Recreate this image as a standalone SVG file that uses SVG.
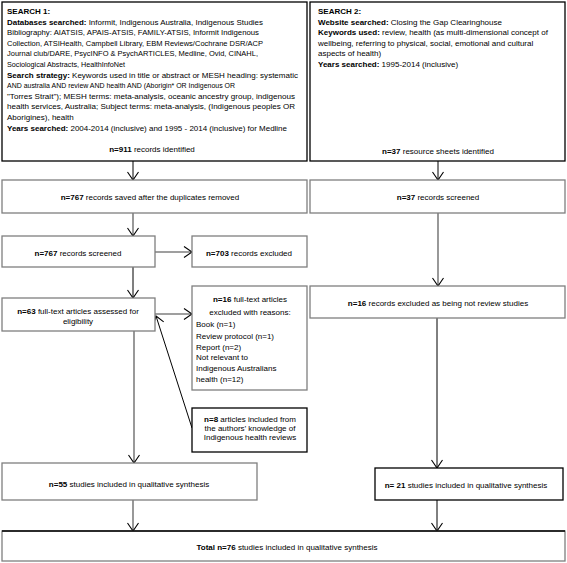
<svg xmlns="http://www.w3.org/2000/svg" width="567" height="563" viewBox="0 0 567 563">
<defs>
<style>
text{font-family:"Liberation Sans",Arial,sans-serif;font-size:8px;fill:#000}
.b{font-weight:bold}
.c{text-anchor:middle}
.bk{fill:#fff;stroke:#000;stroke-width:1.3}
.gr{fill:#fff;stroke:#7f7f7f;stroke-width:1.3}
.lk{fill:none;stroke:#000;stroke-width:1}
.lg{fill:none;stroke:#7f7f7f;stroke-width:1.6}
</style>
<marker id="ah" markerUnits="userSpaceOnUse" markerWidth="14" markerHeight="14" refX="10" refY="7" orient="auto" viewBox="0 0 14 14">
<path d="M2,1.5 L10,7 L2,12.5" fill="none" stroke="#000" stroke-width="1.1"/>
</marker>
</defs>
<rect width="567" height="563" fill="#fff"/>

<g id="connectors">
<line class="lk" x1="133" y1="161" x2="133" y2="180" marker-end="url(#ah)"/>
<line class="lg" x1="133" y1="213" x2="133" y2="236" marker-end="url(#ah)"/>
<line class="lg" x1="155" y1="252" x2="192" y2="252" marker-end="url(#ah)"/>
<line class="lk" x1="133" y1="267" x2="133" y2="298" marker-end="url(#ah)"/>
<line class="lg" x1="155" y1="314" x2="192" y2="314" marker-end="url(#ah)"/>
<line class="lk" x1="192" y1="428" x2="156" y2="316" marker-end="url(#ah)"/>
<line class="lg" x1="134" y1="331" x2="134" y2="463" marker-end="url(#ah)"/>
<line class="lg" x1="133" y1="500" x2="133" y2="531" marker-end="url(#ah)"/>
<line class="lk" x1="438" y1="161" x2="438" y2="180" marker-end="url(#ah)"/>
<line class="lg" x1="438" y1="213" x2="438" y2="286" marker-end="url(#ah)"/>
<line class="lk" x1="437" y1="318" x2="437" y2="468" marker-end="url(#ah)"/>
<line class="lk" x1="437" y1="500" x2="437" y2="531" marker-end="url(#ah)"/>
</g>

<g id="search1">
<rect class="bk" x="2" y="2" width="305" height="159"/>
<text x="7" y="14" class="b">SEARCH 1:</text>
<text x="7" y="24.7" textLength="256" lengthAdjust="spacingAndGlyphs"><tspan class="b">Databases searched:</tspan> Informit, Indigenous Australia, Indigenous Studies</text>
<text x="7" y="35.2" textLength="252" lengthAdjust="spacingAndGlyphs">Bibliography: AIATSIS, APAIS-ATSIS, FAMILY-ATSIS, Informit Indigenous</text>
<text x="7" y="45.8" textLength="256" lengthAdjust="spacingAndGlyphs">Collection, ATSIHealth, Campbell Library, EBM Reviews/Cochrane DSR/ACP</text>
<text x="7" y="56.4" textLength="251" lengthAdjust="spacingAndGlyphs">Journal club/DARE, PsycINFO &amp; PsychARTICLES, Medline, Ovid, CINAHL,</text>
<text x="7" y="67" textLength="118" lengthAdjust="spacingAndGlyphs">Sociological Abstracts, HealthInfoNet</text>
<text x="7" y="77.6" textLength="291" lengthAdjust="spacingAndGlyphs"><tspan class="b">Search strategy:</tspan> Keywords used in title or abstract or MESH heading: systematic</text>
<text x="7" y="88.2" textLength="228" lengthAdjust="spacingAndGlyphs">AND australia AND review AND health AND (Aborigin* OR Indigenous OR</text>
<text x="7" y="98.8" textLength="288" lengthAdjust="spacingAndGlyphs">"Torres Strait"); MESH terms: meta-analysis, oceanic ancestry group, indigenous</text>
<text x="7" y="109.4" textLength="288" lengthAdjust="spacingAndGlyphs">health services, Australia; Subject terms: meta-analysis, (Indigenous peoples OR</text>
<text x="7" y="120">Aborigines), health</text>
<text x="7" y="130.6" textLength="280" lengthAdjust="spacingAndGlyphs"><tspan class="b">Years searched:</tspan> 2004-2014 (inclusive) and  1995 - 2014 (inclusive) for Medline</text>
<text x="152" y="152" class="c"><tspan class="b">n=911</tspan> records identified</text>
</g>

<g id="search2">
<rect class="bk" x="310" y="2" width="255" height="159"/>
<text x="318" y="14" class="b">SEARCH 2:</text>
<text x="318" y="24.7"><tspan class="b">Website searched:</tspan> Closing the Gap Clearinghouse</text>
<text x="318" y="35.2"><tspan class="b">Keywords used:</tspan> review, health (as multi-dimensional concept of</text>
<text x="318" y="45.8">wellbeing, referring to physical, social, emotional and cultural</text>
<text x="318" y="56.4">aspects of health)</text>
<text x="318" y="67"><tspan class="b">Years searched:</tspan> 1995-2014 (inclusive)</text>
<text x="438" y="154" class="c"><tspan class="b">n=37</tspan> resource sheets identified</text>
</g>

<g id="saved767">
<rect class="gr" x="2" y="180" width="305" height="33"/>
<text x="150" y="200" class="c"><tspan class="b">n=767</tspan> records saved after the duplicates removed</text>
</g>

<g id="screened37">
<rect class="gr" x="310" y="180" width="255" height="33"/>
<text x="438" y="200" class="c"><tspan class="b">n=37</tspan> records screened</text>
</g>

<g id="screened767">
<rect class="gr" x="2" y="236" width="153" height="31"/>
<text x="78" y="255.5" class="c"><tspan class="b">n=767</tspan> records screened</text>
</g>

<g id="excluded703">
<rect class="gr" x="192" y="236" width="115" height="31"/>
<text x="249" y="255.5" class="c"><tspan class="b">n=703</tspan> records excluded</text>
</g>

<g id="fulltext63">
<rect class="gr" x="2" y="298" width="153" height="33"/>
<text x="78" y="313.5" class="c"><tspan class="b">n=63</tspan> full-text articles assessed for</text>
<text x="78" y="323.5" class="c">eligibility</text>
</g>

<g id="excluded16ft">
<rect class="gr" x="192" y="286" width="115" height="104"/>
<text x="250" y="301.5" class="c"><tspan class="b">n=16</tspan> full-text articles</text>
<text x="250" y="314.5" class="c">excluded with reasons:</text>
<text x="196" y="326.5">Book (n=1)</text>
<text x="196" y="338.5">Review protocol (n=1)</text>
<text x="196" y="349.5">Report (n=2)</text>
<text x="196" y="360">Not relevant to</text>
<text x="196" y="371">Indigenous Australians</text>
<text x="196" y="382">health (n=12)</text>
</g>

<g id="excluded16rec">
<rect class="gr" x="310" y="286" width="255" height="32"/>
<text x="438" y="305.5" class="c"><tspan class="b">n=16</tspan> records excluded as being not review studies</text>
</g>

<g id="included8">
<rect class="bk" x="192" y="408" width="115" height="44"/>
<text x="250" y="421.5" class="c"><tspan class="b">n=8</tspan> articles included from</text>
<text x="250" y="430.5" class="c">the authors’ knowledge of</text>
<text x="250" y="439.5" class="c">Indigenous health reviews</text>
</g>

<g id="studies55">
<rect class="gr" x="2" y="463" width="255" height="37"/>
<text x="129" y="486.5" class="c"><tspan class="b">n=55</tspan> studies included in qualitative synthesis</text>
</g>

<g id="studies21">
<rect class="bk" x="375" y="468" width="188" height="32"/>
<text x="466" y="487.5" class="c"><tspan class="b">n= 21</tspan> studies included in qualitative synthesis</text>
</g>

<g id="total">
<rect class="gr" x="2" y="531" width="563" height="30"/>
<line x1="2" y1="531" x2="565" y2="531" stroke="#000" stroke-width="1.3"/>
<text x="287" y="549.5" class="c"><tspan class="b">Total n=76</tspan> studies included in qualitative synthesis</text>
</g>
</svg>
